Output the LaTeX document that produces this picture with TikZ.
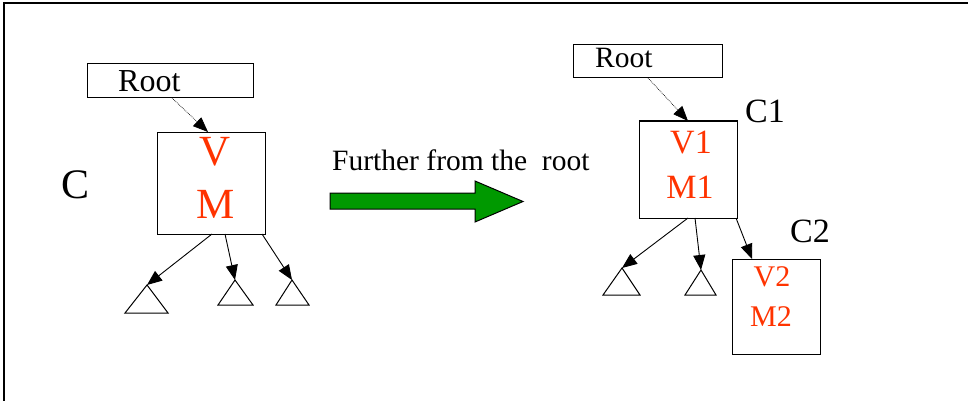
\documentclass[tikz,border=0pt]{standalone}
\usepackage{fontspec}
\setmainfont{Liberation Serif}
\usetikzlibrary{arrows.meta}
\definecolor{txtred}{RGB}{255,51,0}
\definecolor{arrgreen}{RGB}{0,153,0}
\tikzset{
  box/.style={draw,line width=1pt,inner sep=0pt},
  lbl/.style={inner sep=0pt,anchor=base},
  lblw/.style={inner sep=0pt,anchor=base west},
  conn/.style={line width=0.9pt,-{Triangle[length=15pt,width=12pt]}},
  rootconn/.style={line width=0.7pt,densely dotted,-{Triangle[length=15pt,width=12pt]}},
  tri/.style={draw,line width=1pt}
}
\begin{document}
\begin{tikzpicture}[x=1pt,y=-1pt]
\useasboundingbox (0,0) rectangle (968,401);
% frame
\draw[line width=1.2pt] (4,401) -- (4,3) -- (968,3);

% ---------- left ----------
\node[box,minimum width=166pt,minimum height=34pt] (rootL) at (170,81) {};
\node[lblw,font=\fontsize{32}{32}\selectfont] (rootLt) at (118,92) {Root};
\node[box,minimum width=108pt,minimum height=102pt] (vm) at (211,183) {};
\node[lbl,font=\fontsize{43}{43}\selectfont,text=txtred] (vt) at (215,165) {V};
\node[lbl,font=\fontsize{43}{43}\selectfont,text=txtred] (mt) at (216,218) {M};
\node[lbl,font=\fontsize{42}{42}\selectfont] (cl) at (76,198) {C};

\coordinate (rLs) at (172,98);
\coordinate (vmt) at (208,132);
\draw[rootconn] (rLs) -- (vmt);

\coordinate (s1) at (212,234);
\coordinate (s2) at (225,234);
\coordinate (s3) at (262,234);
\coordinate (a1) at (147,285);
\coordinate (a2) at (235,280);
\coordinate (a3) at (292,280);
\draw[tri] (a1) -- (125,313) -- (168,313) -- cycle;
\draw[tri] (a2) -- (218,305) -- (253,305) -- cycle;
\draw[tri] (a3) -- (276,305) -- (309,305) -- cycle;
\draw[conn] (s1) -- (a1);
\draw[conn] (s2) -- (a2);
\draw[conn] (s3) -- (a3);

% ---------- middle ----------
\node[lblw,font=\fontsize{29.5}{29.5}\selectfont] (further) at (332,170) {Further from the\ \ root};
\draw[line width=1pt,fill=arrgreen] (330,193) -- (475,193) -- (475,181) -- (523,201.5)
  -- (475,222) -- (475,209) -- (330,209) -- cycle;

% ---------- right ----------
\node[box,minimum width=149pt,minimum height=33pt] (rootR) at (647.5,61.5) {};
\node[lblw,font=\fontsize{29.5}{29.5}\selectfont] (rootRt) at (595,68) {Root};
\node[box,minimum width=98pt,minimum height=97pt] (c1box) at (688,169.5) {};
\node[lbl,font=\fontsize{34}{34}\selectfont,text=txtred] (v1) at (691,153) {V1};
\node[lbl,font=\fontsize{34}{34}\selectfont,text=txtred] (m1) at (690,198) {M1};
\node[lblw,font=\fontsize{34}{34}\selectfont] (c1l) at (745,123) {C1};
\node[box,minimum width=88pt,minimum height=95pt] (c2box) at (776,306.5) {};
\node[lbl,font=\fontsize{30}{30}\selectfont,text=txtred] (v2) at (772,286) {V2};
\node[lbl,font=\fontsize{30}{30}\selectfont,text=txtred] (m2) at (771,326) {M2};
\node[lblw,font=\fontsize{34}{34}\selectfont] (c2l) at (790,242) {C2};

\coordinate (rRs) at (648,78);
\coordinate (c1t) at (688,121);
\draw[rootconn] (rRs) -- (c1t);

\coordinate (u1) at (688,218);
\coordinate (u2) at (695,218);
\coordinate (u3) at (736,218);
\coordinate (b1) at (622,268);
\coordinate (b2) at (701,270);
\coordinate (c2t) at (752,259);
\draw[tri] (b1) -- (603,295) -- (640,295) -- cycle;
\draw[tri] (b2) -- (685,295) -- (716,295) -- cycle;
\draw[conn] (u1) -- (b1);
\draw[conn] (u2) -- (b2);
\draw[conn] (u3) -- (c2t);
\end{tikzpicture}
\end{document}
